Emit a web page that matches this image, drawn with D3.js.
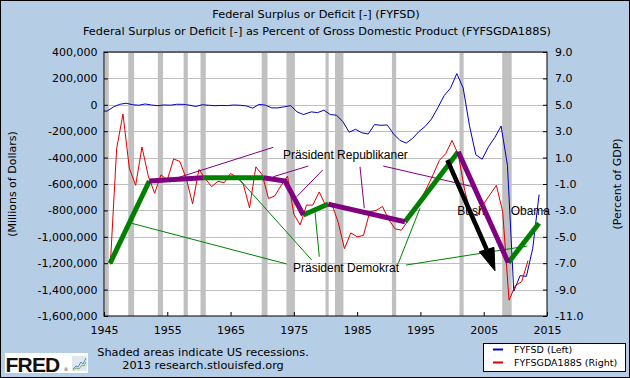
<!DOCTYPE html>
<html><head><meta charset="utf-8">
<script src="https://cdn.jsdelivr.net/npm/d3@7"></script>
<style>html,body{margin:0;padding:0;background:#fff}svg{display:block}</style>
</head><body>
<svg id="c" width="630" height="378"></svg>
<script>
// ---------- data ----------
const blueYears = d3.range(1944, 2014);
const blueVals = [-47557,-47553,-15936,4018,11796,580,-3119,6102,-1519,-6493,-1154,-2993,3947,3412,-2769,-12849,301,-3335,-7146,-4756,-5915,-1411,-3698,-8643,-25161,3242,-2842,-23033,-23373,-14908,-6135,-53242,-73732,-53659,-59185,-40726,-73830,-78968,-127977,-207802,-185367,-212308,-221227,-149730,-155178,-152639,-221036,-269238,-290321,-255051,-203186,-163952,-107431,-21884,69270,125610,236241,128236,-157758,-377585,-412727,-318346,-248181,-160701,-458553,-1412688,-1294373,-1299595,-1086963,-680000];
const redYears = d3.range(1946, 2013);
const redVals = [-7.1,1.7,4.3,0.2,-1.1,1.8,-0.4,-1.7,-0.3,-0.7,0.9,0.7,-0.6,-2.5,0.1,-0.6,-1.2,-0.8,-0.9,-0.2,-0.5,-1.0,-2.8,0.3,-0.3,-2.1,-1.9,-1.1,-0.4,-3.3,-4.1,-2.6,-2.6,-1.6,-2.6,-2.5,-3.9,-5.9,-4.7,-5.0,-4.9,-3.1,-3.0,-2.7,-3.7,-4.4,-4.5,-3.8,-2.8,-2.2,-1.3,-0.3,0.8,1.3,2.3,1.2,-1.5,-3.3,-3.4,-2.5,-1.8,-1.1,-3.1,-9.8,-8.7,-8.4,-6.8];
const recStart = [1945.08,1948.83,1953.5,1957.58,1960.25,1969.92,1973.83,1980.0,1981.5,1990.5,2001.17,2007.92];
const recEnd   = [1945.75,1949.75,1954.33,1958.25,1961.08,1970.83,1975.17,1980.5,1982.83,1991.17,2001.83,2009.42];
const xTicks = [1945,1955,1965,1975,1985,1995,2005,2015];
const xTickLabels = ["1945","1955","1965","1975","1985","1995","2005","2015"];
const leftTicks = [400000,200000,0,-200000,-400000,-600000,-800000,-1000000,-1200000,-1400000,-1600000];
const leftTickLabels = ["400,000","200,000","0","-200,000","-400,000","-600,000","-800,000","-1,000,000","-1,200,000","-1,400,000","-1,600,000"];
const rightTicks = [9,7,5,3,1,-1,-3,-5,-7,-9,-11];
const rightTickLabels = ["9.0","7.0","5.0","3.0","1.0","-1.0","-3.0","-5.0","-7.0","-9.0","-11.0"];
// annotation (year, percent of GDP)
const demSegments = [
  [[1945.95,-7.01],[1952.16,-0.77]],
  [[1960.69,-0.52],[1970.17,-0.52]],
  [[1976.49,-3.35],[1980.44,-2.52]],
  [[1992.56,-3.86],[2000.98,1.45]],
  [[2008.88,-6.96],[2013.73,-3.98]]
];
const repSegments = [
  [[1952.16,-0.77],[1960.69,-0.52]],
  [[1970.17,-0.52],[1973.60,-0.77],[1976.49,-3.35]],
  [[1980.44,-2.52],[1992.56,-3.86]],
  [[2000.98,1.45],[2008.88,-6.96]]
];
const repPointers = [
  [[1971.75,1.78],[1956.49,-0.55]],
  [[1977.28,0.36],[1971.75,-0.45]],
  [[1979.56,0.06],[1975.45,-1.96]],
  [[1985.45,0.31],[1986.13,-2.84]],
  [[1989.13,0.36],[2003.23,-1.20]]
];
const demPointers = [
  [[1949.38,-3.98],[1973.87,-7.06]],
  [[1966.49,-0.70],[1977.82,-6.76]],
  [[1978.34,-3.10],[1979.02,-6.51]],
  [[1994.93,-2.84],[1991.50,-7.01]],
  [[1992.72,-7.14],[2011.89,-5.70]]
];
const arrowShaft = [[1999.25,0.82],[2005.47,-5.96]];
const arrowHead = [[2004.30,-6.13],[2006.62,-5.80],[2006.78,-7.57]];
const labels = [
  {text:"Präsident Republikaner", at:[1973.3,0.86]},
  {text:"Präsident Demokrat", at:[1974.86,-7.65]},
  {text:"Bush", at:[2000.83,-3.37]},
  {text:"Obama", at:[2009.26,-3.37]}
];
const seriesNames = ["FYFSD (Left)","FYFSGDA188S (Right)"];

// ---------- layout ----------
const W=630,H=378, L=104, R=547, T=52, B=316;
const FONT="DejaVu Sans, sans-serif";
const svg=d3.select("#c");
const x=d3.scaleLinear().domain([1945,2015]).range([L,R]);
const yL=d3.scaleLinear().domain([-1600000,400000]).range([B,T]);
const yR=d3.scaleLinear().domain([-11,9]).range([B,T]);
const blueDate = yr => yr + (yr < 1977 ? 0.5 : 0.75); // fiscal year end

svg.append("rect").attr("x",0.5).attr("y",0.5).attr("width",W-1).attr("height",H-1)
  .attr("fill","#b5cde5").attr("stroke","#000");

// titles
svg.append("text").attr("x",316).attr("y",18).attr("text-anchor","middle")
  .attr("font-family",FONT).attr("font-size",11.3).text("Federal Surplus or Deficit [-] (FYFSD)");
svg.append("text").attr("x",317).attr("y",35).attr("text-anchor","middle")
  .attr("font-family",FONT).attr("font-size",11.3).text("Federal Surplus or Deficit [-] as Percent of Gross Domestic Product (FYFSGDA188S)");

// plot bg
svg.append("rect").attr("x",L).attr("y",T).attr("width",R-L).attr("height",B-T).attr("fill","#fff");
svg.append("clipPath").attr("id","clip").append("rect").attr("x",L).attr("y",T).attr("width",R-L).attr("height",B-T);
const plot=svg.append("g").attr("clip-path","url(#clip)");

// recessions
plot.selectAll("rect.rec").data(recStart).join("rect").attr("class","rec")
  .attr("x",d=>x(d)).attr("width",(d,i)=>x(recEnd[i])-x(d))
  .attr("y",T).attr("height",B-T).attr("fill","#c0c0c0");
// grid
plot.selectAll("line.grid").data(leftTicks).join("line").attr("class","grid")
  .attr("x1",L).attr("x2",R).attr("y1",d=>Math.round(yL(d))+0.5).attr("y2",d=>Math.round(yL(d))+0.5)
  .attr("stroke","#c0c0c0").attr("stroke-width",1);

// series
const blueLine=d3.line().x((d,i)=>x(blueDate(blueYears[i]))).y(d=>yL(d));
plot.append("path").datum(blueVals).attr("d",blueLine).attr("fill","none").attr("stroke","#0000c0").attr("stroke-width",1);
const redLine=d3.line().x((d,i)=>x(redYears[i])).y(d=>yR(d));
plot.append("path").datum(redVals).attr("d",redLine).attr("fill","none").attr("stroke","#dd0000").attr("stroke-width",1);

// annotations
const aLine=d3.line().x(d=>x(d[0])).y(d=>yR(d[1]));
const ann=svg.append("g");
ann.selectAll("path.rp").data(repPointers).join("path").attr("d",aLine).attr("fill","none").attr("stroke","#800080").attr("stroke-width",1);
ann.selectAll("path.dp").data(demPointers).join("path").attr("d",aLine).attr("fill","none").attr("stroke","#008000").attr("stroke-width",1);
ann.selectAll("text.lab").data(labels).join("text").attr("class","lab")
  .attr("x",d=>x(d.at[0])).attr("y",d=>yR(d.at[1]))
  .attr("font-family","Liberation Sans, Arial, sans-serif").attr("font-size",12).attr("fill","#000").text(d=>d.text);
ann.selectAll("path.ds").data(demSegments).join("path").attr("d",aLine).attr("fill","none").attr("stroke","#008000").attr("stroke-width",5);
ann.selectAll("path.rs").data(repSegments).join("path").attr("d",aLine).attr("fill","none").attr("stroke","#800080").attr("stroke-width",5).attr("stroke-linejoin","miter");
ann.append("path").datum(arrowShaft).attr("d",aLine).attr("stroke","#000").attr("stroke-width",4.5).attr("fill","none");
ann.append("path").datum(arrowHead).attr("d",d=>aLine(d)+"Z").attr("fill","#000").attr("stroke","#000").attr("stroke-width",1);

// border
svg.append("rect").attr("x",L).attr("y",T).attr("width",R-L).attr("height",B-T).attr("fill","none").attr("stroke","#000").attr("stroke-width",1);

// axes
function styleAxis(g){
  g.select(".domain").remove();
  g.selectAll(".tick line").attr("stroke","#000");
  g.selectAll(".tick text").attr("font-family",FONT).attr("font-size",11).attr("fill","#000");
}
svg.append("g").attr("transform",`translate(${L},0)`)
  .call(d3.axisLeft(yL).tickValues(leftTicks).tickFormat((d,i)=>leftTickLabels[i]).tickSize(-4).tickPadding(6.5))
  .call(styleAxis);
svg.append("g").attr("transform",`translate(${R},0)`)
  .call(d3.axisRight(yR).tickValues(rightTicks).tickFormat((d,i)=>rightTickLabels[i]).tickSize(-4).tickPadding(8))
  .call(styleAxis);
svg.append("g").attr("transform",`translate(0,${B})`)
  .call(d3.axisBottom(x).tickValues(xTicks).tickFormat((d,i)=>xTickLabels[i]).tickSize(-4).tickPadding(10))
  .call(styleAxis);

// axis titles
svg.append("text").attr("transform",`translate(16,${(T+B)/2}) rotate(-90)`).attr("text-anchor","middle")
  .attr("font-family",FONT).attr("font-size",11).text("(Millions of Dollars)");
svg.append("text").attr("transform",`translate(621,${(T+B)/2}) rotate(-90)`).attr("text-anchor","middle")
  .attr("font-family",FONT).attr("font-size",11).text("(Percent of GDP)");

// footer
svg.append("text").attr("x",203).attr("y",355.5).attr("text-anchor","middle").attr("font-family",FONT).attr("font-size",11.3).text("Shaded areas indicate US recessions.");
svg.append("text").attr("x",203).attr("y",368.5).attr("text-anchor","middle").attr("font-family",FONT).attr("font-size",11.3).text("2013 research.stlouisfed.org");

// FRED logo
svg.append("rect").attr("x",5).attr("y",353).attr("width",83).attr("height",20).attr("fill","#fff");
svg.append("text").attr("x",5.5).attr("y",371.5).attr("font-family","Liberation Sans, Arial, sans-serif").attr("font-weight","bold")
  .attr("font-size",21).attr("letter-spacing",-0.8).attr("fill","#111").text("FRED");
svg.append("text").attr("x",63.5).attr("y",370.5).attr("font-family",FONT).attr("font-size",5).attr("fill","#444").text("®");
const icon=svg.append("g");
icon.append("rect").attr("x",72).attr("y",356).attr("width",15).attr("height",15).attr("fill","#dfe7ef");
icon.append("path").attr("d","M73,369 L76,366 L78,367 L81,362 L83,364 L86,358").attr("fill","none").attr("stroke","#5a8cc0").attr("stroke-width",1);
icon.append("path").attr("d","M73,370 L76,368 L79,369 L82,365 L84,366 L86,362").attr("fill","none").attr("stroke","#7ab05a").attr("stroke-width",1);

// legend
const lg=svg.append("g");
lg.append("rect").attr("x",483.5).attr("y",343.5).attr("width",142).attr("height",28).attr("fill","#fff").attr("stroke","#000");
const legColors=["#0000cc","#dd0000"];
seriesNames.forEach((n,i)=>{
  lg.append("line").attr("x1",493).attr("x2",503).attr("y1",349.5+i*13).attr("y2",349.5+i*13).attr("stroke",legColors[i]).attr("stroke-width",2);
  lg.append("text").attr("x",514).attr("y",353+i*13).attr("font-family",FONT).attr("font-size",9.5).text(n);
});
</script>
</body></html>
